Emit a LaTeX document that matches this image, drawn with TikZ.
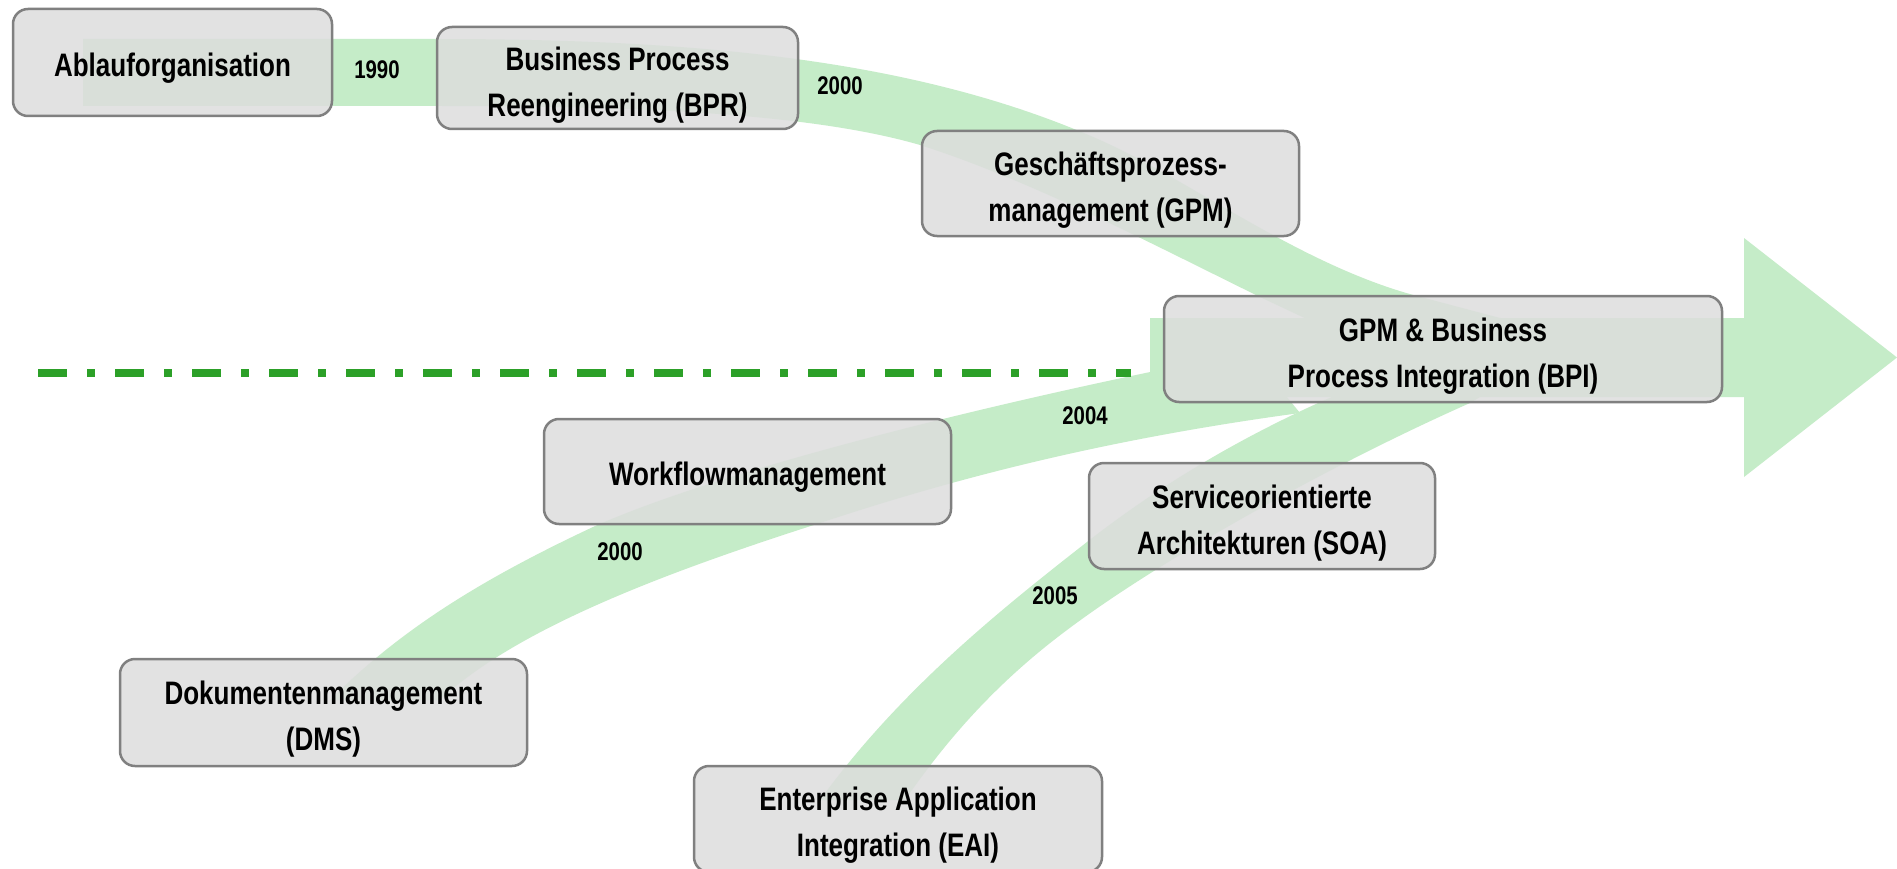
\documentclass[tikz,border=0pt]{standalone}
\usepackage{fontspec}
\setmainfont{Liberation Sans}[FakeStretch=0.80]
\definecolor{bandgreen}{RGB}{197,236,200}
\definecolor{boxfill}{RGB}{221,221,221}
\definecolor{boxline}{RGB}{128,128,128}
\definecolor{dashgreen}{RGB}{44,160,40}
\newcommand{\mainfnt}{\fontsize{32.5}{46}\selectfont\bfseries}
\newcommand{\yearfnt}{\fontsize{25.5}{30}\selectfont\bfseries}
\tikzset{
  box/.style={draw=boxline, line width=2.5pt, fill=boxfill, fill opacity=0.85,
    rounded corners=15pt, inner sep=0pt},
  boxtext/.style={align=center, inner sep=0pt, font=\mainfnt},
  year/.style={font=\yearfnt, inner sep=0pt},
  band/.style={fill=bandgreen},
  dashdotline/.style={draw=dashgreen, line width=8pt, dash pattern=on 29pt off 20pt on 8pt off 20pt},
}
\begin{document}
\begin{tikzpicture}[x=1pt,y=-1pt]
\useasboundingbox (0,0) rectangle (1897,869);
\fill[white] (0,0) rectangle (1897,869);

% band A: Ablauforganisation -> BPR -> GPM -> BPI
\fill[band] (83,39) -- (437,39)
  .. controls (700,39) and (920,60) .. (1100,140)
  .. controls (1190,180) and (1300,265) .. (1417,296)
  -- (1500,318) -- (1500,340) -- (1330,330) -- (1260,297)
  .. controls (1150,243) and (1030,180) .. (920,145)
  .. controls (800,110) and (600,106) .. (437,106)
  -- (83,106) -- cycle;

% band B: DMS -> Workflow -> BPI
\fill[band] (330,700)
  .. controls (400,630) and (480,580) .. (593,527)
  .. controls (720,470) and (1000,400) .. (1250,352)
  -- (1300,413)
  .. controls (1100,440) and (950,480) .. (820,523)
  .. controls (680,568) and (520,625) .. (440,700) -- cycle;

% band C: EAI -> SOA -> BPI
\fill[band] (820,800)
  .. controls (900,690) and (1000,610) .. (1087,542)
  .. controls (1160,485) and (1250,430) .. (1360,385)
  -- (1500,385) -- (1470,403)
  .. controls (1330,465) and (1160,560) .. (1067,630)
  .. controls (1000,680) and (950,735) .. (905,800) -- cycle;

% big arrow
\coordinate (sh1) at (1150,318);
\coordinate (sh2) at (1744,318);
\coordinate (ht) at (1744,238);
\coordinate (tip) at (1897,357.5);
\coordinate (hb) at (1744,477);
\coordinate (sh3) at (1744,397);
\coordinate (sh4) at (1150,397);
\fill[band] (sh1) -- (sh2) -- (ht) -- (tip) -- (hb) -- (sh3) -- (sh4) -- cycle;

% dash-dot separator
\coordinate (dl) at (38,373);
\coordinate (dr) at (1131,373);
\draw[dashdotline] (dl) -- (dr);

% boxes
\node[box, minimum width=319pt, minimum height=107pt] (abl) at (172.5,62.5) {};
\node[box, minimum width=361pt, minimum height=102pt] (bpr) at (617.5,78) {};
\node[box, minimum width=377pt, minimum height=105pt] (gpm) at (1110.5,183.5) {};
\node[box, minimum width=558pt, minimum height=106pt] (bpi) at (1443,349) {};
\node[box, minimum width=407pt, minimum height=105pt] (wf) at (747.5,471.5) {};
\node[box, minimum width=346pt, minimum height=106pt] (soa) at (1262,516) {};
\node[box, minimum width=407pt, minimum height=107pt] (dms) at (323.5,712.5) {};
\node[box, minimum width=408pt, minimum height=106pt] (eai) at (898,819) {};

% box texts
\node[boxtext] (ablT) at ([yshift=-6pt]abl.center) {Ablauforganisation};
\node[boxtext] (bprT) at ([yshift=-7pt]bpr.center) {Business Process\\Reengineering (BPR)};
\node[boxtext] (gpmT) at ([yshift=-7pt]gpm.center) {Geschäftsprozess-\\management (GPM)};
\node[boxtext] (bpiT) at ([yshift=-7pt]bpi.center) {GPM \& Business\\Process Integration (BPI)};
\node[boxtext] (wfT) at ([yshift=-6pt]wf.center) {Workflowmanagement};
\node[boxtext] (soaT) at ([yshift=-7pt]soa.center) {Serviceorientierte\\Architekturen (SOA)};
\node[boxtext] (dmsT) at ([yshift=-7pt]dms.center) {Dokumentenmanagement\\(DMS)};
\node[boxtext] (eaiT) at ([yshift=-6pt]eai.center) {Enterprise Application\\Integration (EAI)};

% years
\node[year] (y1990) at (377,70) {1990};
\node[year] (y2000a) at (840,86) {2000};
\node[year] (y2004) at (1085,415.5) {2004};
\node[year] (y2000b) at (620,552) {2000};
\node[year] (y2005) at (1055,596) {2005};
\end{tikzpicture}
\end{document}
